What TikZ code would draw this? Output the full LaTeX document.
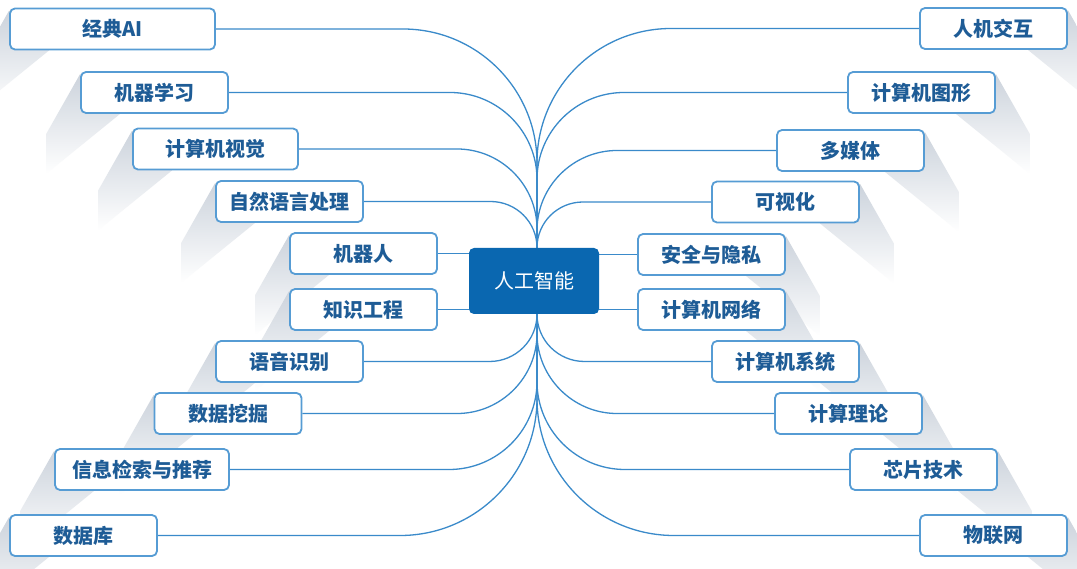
\documentclass[tikz,border=0pt]{standalone}
\usepackage{fontspec}
\newfontfamily\cjk{Noto Sans CJK SC}
\definecolor{boxline}{RGB}{86,156,212}
\definecolor{topictext}{RGB}{30,92,150}
\definecolor{hubblue}{RGB}{10,103,176}
\definecolor{linkblue}{RGB}{58,138,202}
\definecolor{shadowgray}{RGB}{204,211,220}
\pgfdeclarelayer{shadowlayer}
\pgfdeclarelayer{linklayer}
\pgfsetlayers{shadowlayer,linklayer,main}
\tikzset{
  topic/.style={draw=boxline, line width=1.8pt, rounded corners=5pt, fill=white,
    minimum height=41pt, minimum width=147pt, inner sep=0pt, text=topictext,
    font=\cjk\bfseries\fontsize{20}{20}\selectfont},
  hubbox/.style={fill=hubblue, rounded corners=5pt, minimum width=130pt,
    minimum height=66pt, inner sep=0pt, text=white,
    font=\cjk\fontsize{20}{20}\selectfont},
  link/.style={draw=linkblue, line width=1.3pt},
  castshade/.style={top color=shadowgray, bottom color=white},
}
% soft shadow falling from the outer edge of a box, lower left / lower right
\newcommand{\castL}[1]{\shade[castshade] ([yshift=-3pt]#1.north west) -- ++(-34,60)
  -- ([shift={(-34,60)}]#1.south west) -- ([shift={(40,0)}]#1.south west) -- cycle;}
\newcommand{\castR}[1]{\shade[castshade] ([yshift=-3pt]#1.north east) -- ++(34,60)
  -- ([shift={(34,60)}]#1.south east) -- ([shift={(-40,0)}]#1.south east) -- cycle;}
\begin{document}
\begin{tikzpicture}[x=1pt,y=-1pt]
\useasboundingbox (0,0) rectangle (1077,569);

% topics on the left
\node[topic, minimum width=205pt] (l1) at (112.5,29) {经典AI};
\node[topic] (l2) at (154.5,92.5) {机器学习};
\node[topic, minimum width=165pt] (l3) at (215.5,149) {计算机视觉};
\node[topic] (l4) at (289.5,201.5) {自然语言处理};
\node[topic] (l5) at (363.5,253.5) {机器人};
\node[topic] (l6) at (363.5,309.5) {知识工程};
\node[topic] (l7) at (289.5,361.5) {语音识别};
\node[topic] (l8) at (228,413.5) {数据挖掘};
\node[topic, minimum width=174pt] (l9) at (142,469.5) {信息检索与推荐};
\node[topic] (l10) at (83.5,535.5) {数据库};

% topics on the right
\node[topic] (r1) at (993.5,28.5) {人机交互};
\node[topic] (r2) at (921.5,92.5) {计算机图形};
\node[topic] (r3) at (850.5,150.5) {多媒体};
\node[topic] (r4) at (785.5,202) {可视化};
\node[topic] (r5) at (711.5,254.5) {安全与隐私};
\node[topic] (r6) at (711.5,309.5) {计算机网络};
\node[topic] (r7) at (785.5,361.5) {计算机系统};
\node[topic] (r8) at (848.5,413.5) {计算理论};
\node[topic] (r9) at (923.5,469.5) {芯片技术};
\node[topic] (r10) at (993.5,535.5) {物联网};

% central topic
\node[hubbox] (c) at (534,281) {人工智能};
\coordinate (ht) at ([xshift=3pt]c.north);
\coordinate (hb) at ([xshift=3pt]c.south);

\begin{pgfonlayer}{shadowlayer}
  \fill[white] (0,0) rectangle (1077,569);
  \foreach \n in {l1,l2,l3,l4,l5,l6,l7,l8,l9,l10} {\castL{\n}}
  \foreach \n in {r1,r2,r3,r4,r5,r6,r7,r8,r9,r10} {\castR{\n}}
\end{pgfonlayer}

\begin{pgfonlayer}{linklayer}
  % upper left branches
  \draw[link] (l1.east) -- (403,29) .. controls +(74,0) and +(0,-74) .. (537,163) -- (ht);
  \draw[link] (l2.east) -- (450,92.5) .. controls +(48,0) and +(0,-48) .. (537,179.5) -- (ht);
  \draw[link] (l3.east) -- (457,149) .. controls +(44,0) and +(0,-44) .. (537,229) -- (ht);
  \draw[link] (l4.east) -- (490.5,201.5) .. controls +(25.7,0) and +(0,-25.7) .. (ht);
  % upper right branches
  \draw[link] (r1.west) -- (671,28.5) .. controls +(-74,0) and +(0,-74) .. (537,162.5) -- (ht);
  \draw[link] (r2.west) -- (624,92.5) .. controls +(-48,0) and +(0,-48) .. (537,179.5) -- (ht);
  \draw[link] (r3.west) -- (617,150.5) .. controls +(-44,0) and +(0,-44) .. (537,230.5) -- (ht);
  \draw[link] (r4.west) -- (583,202) .. controls +(-25.4,0) and +(0,-25.4) .. (ht);
  % straight links beside the central topic
  \draw[link] (l5.east) -- (l5.east -| c.west);
  \draw[link] (l6.east) -- (l6.east -| c.west);
  \draw[link] (r5.west) -- (r5.west -| c.east);
  \draw[link] (r6.west) -- (r6.west -| c.east);
  % lower left branches
  \draw[link] (l7.east) -- (489.5,361.5) .. controls +(26.2,0) and +(0,26.2) .. (hb);
  \draw[link] (l8.east) -- (457,413.5) .. controls +(44,0) and +(0,44) .. (537,333.5) -- (hb);
  \draw[link] (l9.east) -- (449,469.5) .. controls +(48.6,0) and +(0,48.6) .. (537,381.5) -- (hb);
  \draw[link] (l10.east) -- (400,535.5) .. controls +(75.7,0) and +(0,75.7) .. (537,398.5) -- (hb);
  % lower right branches
  \draw[link] (r7.west) -- (584.5,361.5) .. controls +(-26.2,0) and +(0,26.2) .. (hb);
  \draw[link] (r8.west) -- (617,413.5) .. controls +(-44,0) and +(0,44) .. (537,333.5) -- (hb);
  \draw[link] (r9.west) -- (625,469.5) .. controls +(-48.6,0) and +(0,48.6) .. (537,381.5) -- (hb);
  \draw[link] (r10.west) -- (674,535.5) .. controls +(-75.7,0) and +(0,75.7) .. (537,398.5) -- (hb);
\end{pgfonlayer}
\end{tikzpicture}
\end{document}
